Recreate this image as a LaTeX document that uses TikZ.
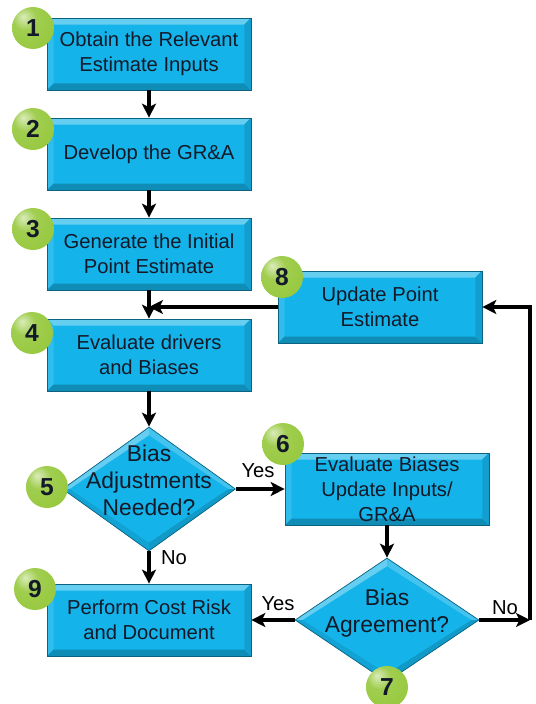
\documentclass[tikz,border=0pt]{standalone}
\usepackage{fontspec}
\setmainfont{Liberation Sans}
\usetikzlibrary{arrows.meta, shapes.geometric, calc}
\definecolor{stepblue}{RGB}{20, 180, 234}
\definecolor{numgreen}{RGB}{150, 200, 60}
\definecolor{inkdark}{RGB}{20, 25, 40}
\newcommand{\bevw}{0.13cm}
\pgfdeclareradialshading{numball}{\pgfqpoint{-12bp}{14bp}}{%
  color(0bp)=(numgreen!35!white); color(14bp)=(numgreen!90!white);
  color(38bp)=(numgreen); color(56bp)=(numgreen!65!black); color(70bp)=(numgreen!50!black)}

\begin{document}
\begin{tikzpicture}[x=0.02cm, y=-0.02cm,
  stepbox/.style={draw=stepblue!55!black, line width=0.4pt, fill=stepblue,
                  minimum width=4.08cm, minimum height=1.44cm, inner sep=2pt,
                  align=center, text=inkdark, font=\fontsize{11.5}{14.2}\selectfont,
    path picture={
      \coordinate (bnw) at (path picture bounding box.north west);
      \coordinate (bne) at (path picture bounding box.north east);
      \coordinate (bsw) at (path picture bounding box.south west);
      \coordinate (bse) at (path picture bounding box.south east);
      \fill[stepblue!65!white] (bnw) -- (bne) -- ([shift={(-\bevw,-\bevw)}]bne) -- ([shift={(\bevw,-\bevw)}]bnw) -- cycle;
      \fill[stepblue!88!white] (bnw) -- ([shift={(\bevw,-\bevw)}]bnw) -- ([shift={(\bevw,\bevw)}]bsw) -- (bsw) -- cycle;
      \fill[stepblue!78!black] (bsw) -- ([shift={(\bevw,\bevw)}]bsw) -- ([shift={(-\bevw,\bevw)}]bse) -- (bse) -- cycle;
      \fill[stepblue!88!black] (bse) -- ([shift={(-\bevw,\bevw)}]bse) -- ([shift={(-\bevw,-\bevw)}]bne) -- (bne) -- cycle;
    }},
  decision/.style={diamond, draw=stepblue!55!black, line width=0.4pt, fill=stepblue,
                   minimum height=2.48cm, inner sep=0pt,
    path picture={
      \coordinate (dn) at (path picture bounding box.north);
      \coordinate (ds) at (path picture bounding box.south);
      \coordinate (de) at (path picture bounding box.east);
      \coordinate (dw) at (path picture bounding box.west);
      \coordinate (dc) at (path picture bounding box.center);
      \fill[stepblue!65!white] (dw) -- (dn) -- ($(dc)!0.87!(dn)$) -- ($(dc)!0.92!(dw)$) -- cycle;
      \fill[stepblue!80!white] (dn) -- (de) -- ($(dc)!0.92!(de)$) -- ($(dc)!0.87!(dn)$) -- cycle;
      \fill[stepblue!85!black] (de) -- (ds) -- ($(dc)!0.87!(ds)$) -- ($(dc)!0.92!(de)$) -- cycle;
      \fill[stepblue!90!black] (ds) -- (dw) -- ($(dc)!0.92!(dw)$) -- ($(dc)!0.87!(ds)$) -- cycle;
    }},
  dtext/.style={align=center, text=inkdark, font=\fontsize{13}{15.4}\selectfont},
  num/.style={circle, minimum size=0.84cm, inner sep=0pt, shading=numball,
              text=inkdark, font=\fontsize{14}{14}\selectfont\bfseries},
  lbl/.style={text=black, font=\fontsize{11.5}{13}\selectfont},
  arr/.style={-{Stealth[length=2.8mm, width=2.8mm, inset=0.7mm]}, line width=1.8pt}
]
  \useasboundingbox (0,0) rectangle (535,704);

  \node[stepbox] (b1) at (149,54)  {Obtain the Relevant\\Estimate Inputs};
  \node[stepbox] (b2) at (149,154) {Develop the GR\&A};
  \node[stepbox] (b3) at (149,254) {Generate the Initial\\Point Estimate};
  \node[stepbox] (b4) at (149,355) {Evaluate drivers\\and Biases};
  \node[decision, minimum width=3.46cm] (d5) at (149,489) {};
  \node[stepbox] (b6) at (387,489) {Evaluate Biases\\Update Inputs/\\GR\&A};
  \node[decision, minimum width=3.68cm] (d7) at (387,620) {};
  \node[stepbox] (b8) at (380,307) {Update Point\\Estimate};
  \node[stepbox] (b9) at (149,620) {Perform Cost Risk\\and Document};

  \node[dtext] (t5) at (149,480) {Bias\\Adjustments\\Needed?};
  \node[dtext] (t7) at (387,613) {Bias\\Agreement?};

  \node[num] (n1) at (33,28)   {1};
  \node[num] (n2) at (33,129)  {2};
  \node[num] (n3) at (33,229)  {3};
  \node[num] (n4) at (32,333)  {4};
  \node[num] (n5) at (47,487)  {5};
  \node[num] (n6) at (283,444) {6};
  \node[num] (n7) at (387,687) {7};
  \node[num] (n8) at (282,277) {8};
  \node[num] (n9) at (35,589)  {9};

  \node[lbl] (yes5) at (258,471) {Yes};
  \node[lbl] (no5)  at (174,558) {No};
  \node[lbl] (yes7) at (278,604) {Yes};
  \node[lbl] (no7)  at (505,608) {No};

  \coordinate (merge) at (149,307);
  \coordinate (loop) at (530,620);

  \draw[arr] (b1) -- (b2);
  \draw[arr] (b2) -- (b3);
  \draw[arr] (b3) -- (b4);
  \draw[arr] (b4) -- (d5);
  \draw[arr] (d5) -- (b6);
  \draw[arr] (d5) -- (b9);
  \draw[arr] (b6) -- (d7);
  \draw[arr] (d7) -- (b9);
  \draw[arr] (d7) -- (loop);
  \draw[arr] (loop) |- (b8.east);
  \draw[arr] (b8) -- (merge);
\end{tikzpicture}
\end{document}
